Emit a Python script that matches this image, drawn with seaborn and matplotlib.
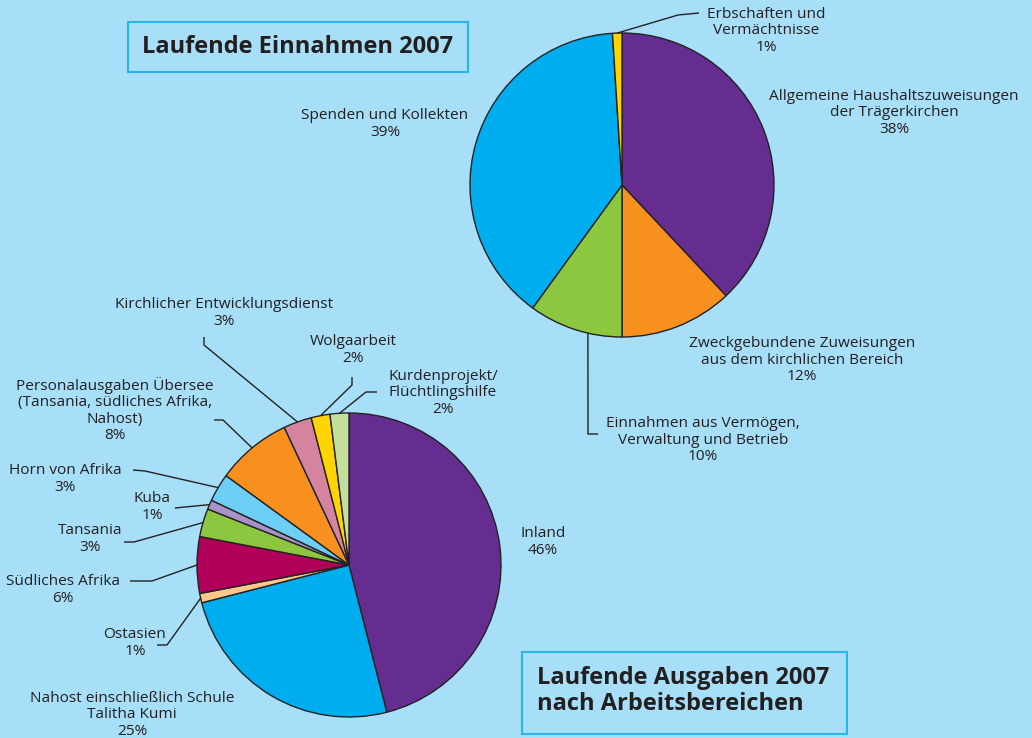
import numpy as np
import matplotlib
matplotlib.use("Agg")
import matplotlib.pyplot as plt
from matplotlib.patches import Rectangle
import seaborn as sns

# ---------------- data ----------------
income_labels = ["Allgemeine Haushaltszuweisungen\nder Trägerkirchen",
                 "Zweckgebundene Zuweisungen\naus dem kirchlichen Bereich",
                 "Einnahmen aus Vermögen,\nVerwaltung und Betrieb",
                 "Spenden und Kollekten",
                 "Erbschaften und\nVermächtnisse"]
income_values = [38, 12, 10, 39, 1]
income_colors = ["#662d91", "#f7901e", "#8dc63f", "#00aeef", "#ffd400"]

spend_labels = ["Inland",
                "Nahost einschließlich Schule\nTalitha Kumi",
                "Ostasien",
                "Südliches Afrika",
                "Tansania",
                "Kuba",
                "Horn von Afrika",
                "Personalausgaben Übersee\n(Tansania, südliches Afrika,\nNahost)",
                "Kirchlicher Entwicklungsdienst",
                "Wolgaarbeit",
                "Kurdenprojekt/\nFlüchtlingshilfe"]
spend_values = [46, 25, 1, 6, 3, 1, 3, 8, 3, 2, 2]
spend_colors = ["#662d91", "#00aeef", "#fdc68a", "#b1005a", "#8dc63f", "#a893c8",
                "#6dcff6", "#f7901e", "#d4849e", "#ffd400", "#c4df9b"]

title_income = "Laufende Einnahmen 2007"
title_spend = "Laufende Ausgaben 2007\nnach Arbeitsbereichen"

# ---------------- style ----------------
sns.set_theme(style="white")
plt.rcParams['font.family'] = ['Open Sans', 'DejaVu Sans']
BG = "#a8dff8"
TXT = "#231f20"
W, H = 1032, 738

fig = plt.figure(figsize=(W / 100, H / 100), dpi=100, facecolor=BG)
ax = fig.add_axes([0, 0, 1, 1])
ax.set_facecolor(BG)


def Y(py):
    return H - py


R = 152
c_top = (622, Y(185))
c_bot = (349, Y(565))

wedges_top, _ = ax.pie(income_values, colors=income_colors, startangle=90,
                       counterclock=False, center=c_top, radius=R, frame=True,
                       wedgeprops=dict(edgecolor="#222222", linewidth=1.0))
wedges_bot, _ = ax.pie(spend_values, colors=spend_colors, startangle=90,
                       counterclock=False, center=c_bot, radius=R, frame=True,
                       wedgeprops=dict(edgecolor="#222222", linewidth=1.0))
ax.set_xlim(0, W)
ax.set_ylim(0, H)
ax.axis("off")
ax.set_aspect("auto")


def arc_point(w, center, frac):
    t = np.deg2rad(w.theta1 + (w.theta2 - w.theta1) * frac)
    return center[0] + R * np.cos(t), center[1] + R * np.sin(t)


FS = 11.1


def label(text, val, x, y):
    ax.text(x, Y(y), f"{text}\n{val}%", ha="center", va="center", fontsize=FS,
            color=TXT, linespacing=1.12)


def leader(w, center, frac, pts):
    sx, sy = arc_point(w, center, frac)
    xs = [sx] + [p[0] for p in pts]
    ys = [sy] + [Y(p[1]) for p in pts]
    ax.plot(xs, ys, color="#222222", lw=1.0, solid_capstyle="butt", zorder=5)


# ---- top pie labels: (x, y, leader fraction, elbow points)
top_layout = [
    (894, 113, None, None),
    (802, 360, None, None),
    (703, 440, 0.64, [(588, 434), (598, 434)]),
    (385, 124, None, None),
    (766, 31, 0.5, [(678, 15), (699, 13)]),
]
for w, lab, val, (x, y, fr, pts) in zip(wedges_top, income_labels, income_values, top_layout):
    label(lab, val, x, y)
    if pts is not None:
        leader(w, c_top, fr, pts)

# ---- bottom pie labels
bot_layout = [
    (543, 542, None, None),
    (132, 715, None, None),
    (135, 643, 0.5, [(167, 645), (157, 645)]),
    (63, 590, 0.5, [(152, 581), (130, 581)]),
    (90, 539, 0.5, [(134, 542), (124, 542)]),
    (152, 507, 0.5, [(175, 508)]),
    (65, 479, 0.5, [(145, 471), (133, 470)]),
    (115, 410, 0.5, [(223, 420), (214, 420)]),
    (224, 313, 0.5, [(204, 345), (204, 337)]),
    (353, 350, 0.5, [(352, 385), (352, 377)]),
    (443, 393, 0.5, [(366, 392), (377, 392)]),
]
for w, lab, val, (x, y, fr, pts) in zip(wedges_bot, spend_labels, spend_values, bot_layout):
    label(lab, val, x, y)
    if pts is not None:
        leader(w, c_bot, fr, pts)

# ---- title boxes
ax.add_patch(Rectangle((128, Y(72)), 340, 50, facecolor=BG, edgecolor="#29b5ea",
                       linewidth=1.5, zorder=6))
ax.text(298, Y(47), title_income, ha="center", va="center", fontsize=17,
        fontweight="bold", color=TXT, zorder=7)

ax.add_patch(Rectangle((522, Y(734)), 325, 82, facecolor=BG, edgecolor="#29b5ea",
                       linewidth=1.5, zorder=6))
ax.text(537, Y(691), title_spend, ha="left", va="center", fontsize=17,
        fontweight="bold", color=TXT, linespacing=1.1, zorder=7)

fig.savefig("out.png", dpi=100, facecolor=BG)
